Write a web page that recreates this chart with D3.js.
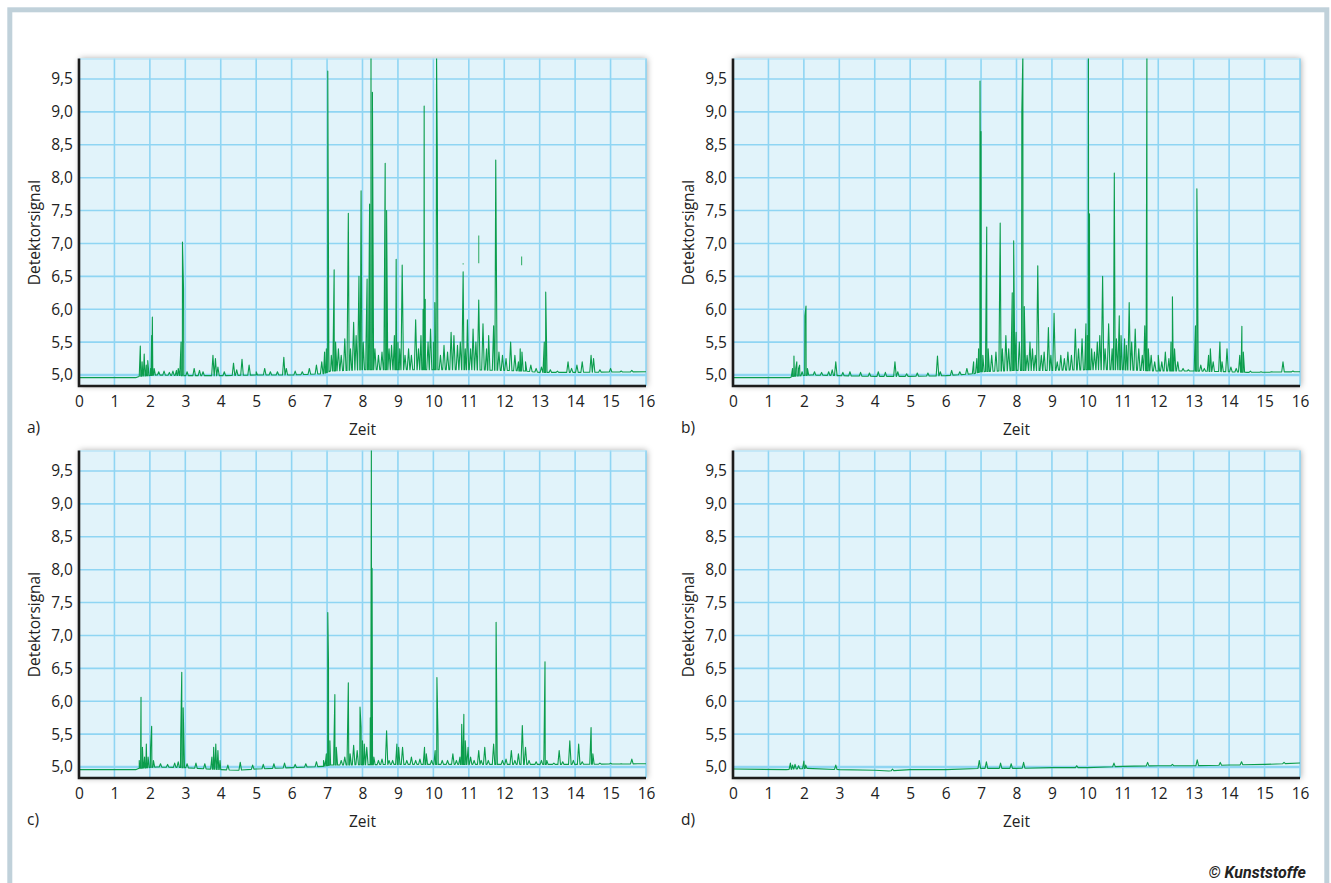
<!DOCTYPE html>
<html>
<head>
<meta charset="utf-8">
<script src="https://cdnjs.cloudflare.com/ajax/libs/d3/7.8.5/d3.min.js"></script>
<style>
  html, body { margin: 0; padding: 0; background: #fff; }
  svg text { font-family: "Open Sans", "Noto Sans", sans-serif; fill: #222; }
</style>
</head>
<body>
<div id="chart"></div>
<script>
'use strict';

// tick labels
const xTicks = [0, 1, 2, 3, 4, 5, 6, 7, 8, 9, 10, 11, 12, 13, 14, 15, 16];
const yTicks = [5.0, 5.5, 6.0, 6.5, 7.0, 7.5, 8.0, 8.5, 9.0, 9.5];
const panelLetters = ["a)", "b)", "c)", "d)"];

// baseline level [zeit, signal]
const baseA = [[0, 4.96], [1.6, 4.96], [1.7, 4.98], [2.2, 5.0], [3, 4.99], [4, 4.99], [5, 5.0], [6, 5.0],
  [6.9, 5.02], [7.1, 5.06], [8, 5.08], [9, 5.08], [10, 5.08], [11, 5.08], [12, 5.07], [12.6, 5.06],
  [13, 5.04], [14, 5.04], [16, 5.05]];
const baseB = [[0, 4.96], [1.6, 4.96], [1.7, 4.98], [2.2, 5.0], [3, 4.99], [4, 4.98], [5, 4.98], [6, 4.99],
  [6.8, 5.02], [7, 5.05], [8, 5.07], [9, 5.07], [10, 5.08], [11, 5.08], [12, 5.06], [13, 5.06],
  [14, 5.05], [14.5, 5.04], [16, 5.05]];
const baseC = [[0, 4.96], [1.6, 4.96], [1.7, 4.98], [2.2, 5.0], [3, 4.99], [4, 4.96], [4.5, 4.95], [5, 4.97],
  [6, 4.99], [6.9, 5.01], [7.1, 5.03], [9, 5.04], [11, 5.04], [13, 5.04], [14, 5.04], [16, 5.05]];
const baseD = [[0, 4.97], [1.5, 4.96], [2.1, 4.98], [3, 4.96], [4, 4.95], [4.4, 4.94], [5, 4.96], [6, 4.96],
  [7, 4.98], [8, 4.98], [9, 4.99], [10, 4.99], [11, 5.01], [12, 5.02], [13, 5.02], [14, 5.03],
  [15, 5.04], [16, 5.06]];

// peaks [zeit, signal]
const peaksA = [[1.73, 5.44], [1.78, 5.2], [1.84, 5.32], [1.9, 5.15], [1.94, 5.22], [2.02, 5.1], [2.05, 5.6],
  [2.07, 5.88], [2.12, 5.1], [2.25, 5.05], [2.4, 5.06], [2.55, 5.04], [2.65, 5.06], [2.75, 5.07], [2.8, 5.1],
  [2.88, 5.5], [2.92, 7.02], [2.95, 6.3], [3.05, 5.05], [3.25, 5.1], [3.4, 5.07], [3.5, 5.05], [3.78, 5.3],
  [3.85, 5.25], [3.92, 5.12], [4.1, 5.05], [4.36, 5.18], [4.45, 5.08], [4.6, 5.24], [4.8, 5.15], [5.0, 5.05],
  [5.24, 5.1], [5.4, 5.05], [5.6, 5.05], [5.78, 5.27], [5.85, 5.1], [6.1, 5.06], [6.3, 5.05], [6.5, 5.1],
  [6.7, 5.15], [6.85, 5.2], [6.93, 5.35], [6.98, 5.4], [7.02, 9.62], [7.05, 5.35], [7.12, 5.3], [7.2, 6.6],
  [7.24, 5.5], [7.32, 5.4], [7.4, 5.3], [7.5, 5.55], [7.6, 7.46], [7.66, 5.4], [7.75, 5.8], [7.82, 5.6],
  [7.9, 6.5], [7.96, 7.8], [8.02, 5.5], [8.1, 5.5], [8.13, 6.46], [8.2, 7.6], [8.24, 9.9], [8.28, 9.3],
  [8.35, 5.4], [8.45, 5.3], [8.55, 5.35], [8.64, 8.22], [8.68, 7.5], [8.75, 5.4], [8.82, 5.45], [8.9, 5.6],
  [8.95, 6.76], [9.0, 5.5], [9.05, 5.4], [9.12, 6.67], [9.2, 5.3], [9.3, 5.4], [9.38, 5.3], [9.5, 5.84],
  [9.58, 5.4], [9.65, 5.6], [9.71, 6.0], [9.74, 9.09], [9.77, 6.15], [9.85, 5.5], [9.92, 5.7], [10.0, 5.5],
  [10.04, 6.1], [10.09, 9.9], [10.11, 8.4], [10.2, 5.3], [10.3, 5.45], [10.4, 5.35], [10.5, 5.65],
  [10.58, 5.6], [10.68, 5.45], [10.76, 5.5], [10.84, 6.57], [10.9, 5.4], [10.96, 5.84], [11.05, 5.4],
  [11.12, 5.7], [11.2, 5.5], [11.28, 6.14], [11.4, 5.78], [11.5, 5.4], [11.56, 5.6], [11.7, 5.75],
  [11.76, 8.27], [11.85, 5.35], [11.95, 5.3], [12.05, 5.25], [12.18, 5.5], [12.3, 5.3], [12.4, 5.2],
  [12.45, 5.4], [12.5, 5.35], [12.6, 5.2], [12.75, 5.15], [12.9, 5.1], [13.05, 5.12], [13.13, 5.5],
  [13.17, 6.26], [13.3, 5.08], [13.5, 5.06], [13.8, 5.2], [13.9, 5.1], [14.05, 5.15], [14.2, 5.2],
  [14.45, 5.3], [14.52, 5.25], [14.7, 5.08], [15.0, 5.1], [15.3, 5.06], [15.6, 5.07]];

const peaksB = [[1.68, 5.1], [1.72, 5.29], [1.77, 5.1], [1.8, 5.2], [1.85, 5.1], [1.88, 5.15], [1.95, 5.05],
  [2.03, 5.9], [2.06, 6.05], [2.1, 5.1], [2.3, 5.05], [2.5, 5.04], [2.7, 5.05], [2.8, 5.08], [2.9, 5.2],
  [3.1, 5.04], [3.3, 5.05], [3.6, 5.04], [3.85, 5.03], [4.1, 5.05], [4.3, 5.04], [4.57, 5.2], [4.65, 5.05],
  [4.9, 5.02], [5.2, 5.03], [5.5, 5.03], [5.77, 5.29], [5.85, 5.05], [6.17, 5.07], [6.4, 5.05], [6.6, 5.1],
  [6.79, 5.2], [6.88, 5.25], [6.93, 5.4], [6.97, 9.47], [7.0, 8.7], [7.05, 5.3], [7.16, 7.25], [7.2, 5.4],
  [7.3, 5.3], [7.42, 5.35], [7.54, 7.31], [7.6, 5.4], [7.7, 5.6], [7.78, 5.4], [7.88, 6.25], [7.92, 7.04],
  [7.99, 5.65], [8.08, 5.5], [8.15, 9.0], [8.18, 9.9], [8.22, 6.04], [8.3, 5.3], [8.38, 5.5], [8.45, 5.4],
  [8.53, 5.3], [8.6, 6.66], [8.7, 5.3], [8.78, 5.35], [8.9, 5.72], [8.97, 5.3], [9.06, 5.94], [9.15, 5.2],
  [9.25, 5.3], [9.35, 5.25], [9.45, 5.35], [9.55, 5.3], [9.66, 5.7], [9.75, 5.4], [9.85, 5.55], [9.96, 5.78],
  [10.0, 5.6], [10.03, 9.9], [10.06, 7.45], [10.12, 5.4], [10.2, 5.35], [10.28, 5.5], [10.35, 5.6],
  [10.43, 6.5], [10.5, 5.4], [10.6, 5.78], [10.7, 5.4], [10.76, 8.07], [10.82, 5.55], [10.9, 5.9],
  [10.95, 5.6], [11.05, 5.55], [11.1, 5.45], [11.18, 6.1], [11.25, 5.5], [11.35, 5.7], [11.45, 5.4],
  [11.55, 5.3], [11.62, 5.75], [11.68, 9.9], [11.72, 5.4], [11.8, 5.3], [11.9, 5.2], [12.0, 5.3],
  [12.1, 5.2], [12.2, 5.35], [12.3, 5.25], [12.36, 5.5], [12.4, 6.19], [12.46, 5.4], [12.55, 5.2],
  [12.7, 5.1], [12.85, 5.08], [13.05, 5.75], [13.09, 7.83], [13.11, 6.62], [13.2, 5.15], [13.3, 5.1],
  [13.42, 5.3], [13.47, 5.4], [13.55, 5.2], [13.74, 5.5], [13.8, 5.2], [13.94, 5.4], [14.05, 5.12],
  [14.2, 5.1], [14.3, 5.3], [14.36, 5.74], [14.4, 5.35], [14.6, 5.06], [14.9, 5.05], [15.2, 5.05],
  [15.52, 5.2], [15.8, 5.06]];

const peaksC = [[1.7, 5.1], [1.75, 6.06], [1.79, 5.3], [1.85, 5.15], [1.9, 5.35], [1.95, 5.15], [2.02, 5.3],
  [2.05, 5.62], [2.1, 5.1], [2.3, 5.05], [2.5, 5.04], [2.7, 5.06], [2.8, 5.08], [2.87, 5.45], [2.9, 6.44],
  [2.94, 5.9], [3.05, 5.05], [3.3, 5.06], [3.55, 5.05], [3.75, 5.15], [3.8, 5.3], [3.86, 5.35], [3.92, 5.25],
  [3.98, 5.1], [4.2, 5.03], [4.55, 5.07], [4.9, 5.03], [5.2, 5.04], [5.5, 5.05], [5.8, 5.06], [6.1, 5.04],
  [6.4, 5.05], [6.7, 5.08], [6.9, 5.1], [6.98, 5.2], [7.02, 7.35], [7.04, 6.6], [7.08, 5.4], [7.22, 6.1],
  [7.26, 5.3], [7.4, 5.1], [7.5, 5.15], [7.6, 6.28], [7.65, 5.2], [7.75, 5.33], [7.85, 5.25], [7.93, 5.91],
  [7.96, 5.6], [8.0, 5.4], [8.05, 5.35], [8.12, 5.3], [8.22, 5.75], [8.25, 9.9], [8.27, 8.02], [8.32, 5.15],
  [8.45, 5.1], [8.55, 5.12], [8.68, 5.55], [8.75, 5.1], [8.85, 5.1], [8.97, 5.35], [9.02, 5.3], [9.13, 5.3],
  [9.25, 5.1], [9.38, 5.15], [9.5, 5.1], [9.62, 5.12], [9.75, 5.3], [9.8, 5.2], [9.95, 5.1], [10.05, 5.25],
  [10.1, 6.36], [10.13, 5.5], [10.25, 5.1], [10.4, 5.1], [10.55, 5.2], [10.65, 5.1], [10.75, 5.15],
  [10.8, 5.65], [10.86, 5.8], [10.9, 5.4], [10.98, 5.3], [11.05, 5.15], [11.15, 5.1], [11.28, 5.25],
  [11.35, 5.1], [11.45, 5.3], [11.55, 5.1], [11.7, 5.35], [11.77, 7.2], [11.8, 5.2], [11.95, 5.1],
  [12.05, 5.12], [12.2, 5.25], [12.3, 5.1], [12.4, 5.2], [12.51, 5.63], [12.6, 5.3], [12.7, 5.1],
  [12.9, 5.08], [13.05, 5.1], [13.12, 5.2], [13.15, 6.6], [13.2, 5.1], [13.4, 5.06], [13.55, 5.25],
  [13.65, 5.08], [13.85, 5.4], [13.95, 5.1], [14.1, 5.35], [14.2, 5.08], [14.45, 5.6], [14.5, 5.2],
  [14.7, 5.06], [15.0, 5.06], [15.3, 5.05], [15.6, 5.12], [15.8, 5.05]];

const peaksD = [[1.62, 5.06], [1.68, 5.03], [1.75, 5.04], [1.85, 5.02], [2.0, 5.09], [2.05, 5.03], [2.9, 5.03],
  [4.5, 4.97], [6.95, 5.1], [7.15, 5.08], [7.55, 5.06], [7.85, 5.05], [8.2, 5.07], [9.7, 5.02], [10.75, 5.06],
  [11.7, 5.07], [12.4, 5.04], [13.1, 5.11], [13.75, 5.07], [14.35, 5.08], [15.55, 5.07]];

// loose trace fragments floating above peaks [zeit, from, to]
const fragsA = [[10.84, 6.7, 6.68], [11.28, 7.12, 6.7], [12.49, 6.8, 6.67]];

(function() {

  let svgContainer = "";
  const plotW = 567;
  const plotH = 327.5;

  window.onload = function() {
    svgContainer = d3.select('#chart')
      .append('svg')
      .attr('width', 1331)
      .attr('height', 883);

    makeDefs();

    // outer frame
    svgContainer.append('rect')
      .attr('x', 9.8).attr('y', 9.8)
      .attr('width', 1317).attr('height', 900)
      .attr('fill', 'none')
      .attr('stroke', '#c0d1da')
      .attr('stroke-width', 5);

    let panels = [
      { left: 79, top: 58.5, base: baseA, peaks: peaksA, frags: fragsA },
      { left: 733, top: 58.5, base: baseB, peaks: peaksB, frags: [] },
      { left: 79, top: 450.5, base: baseC, peaks: peaksC, frags: [] },
      { left: 733, top: 450.5, base: baseD, peaks: peaksD, frags: [] }
    ];
    panels.forEach((p, i) => drawPanel(p, i));

    svgContainer.append('text')
      .attr('x', 1306)
      .attr('y', 878)
      .attr('text-anchor', 'end')
      .style('font-family', '"Liberation Sans Narrow", "Roboto", sans-serif')
      .style('font-weight', 'bold')
      .style('font-style', 'italic')
      .style('font-size', '16px')
      .text('© Kunststoffe');
  }

  function makeDefs() {
    let defs = svgContainer.append('defs');
    defs.append('filter')
      .attr('id', 'shadow')
      .attr('x', '-5%').attr('y', '-10%')
      .attr('width', '110%').attr('height', '120%')
      .append('feDropShadow')
      .attr('dx', 1).attr('dy', 0)
      .attr('stdDeviation', 3)
      .attr('flood-color', '#000')
      .attr('flood-opacity', 0.35);
  }

  // one chromatogram panel
  function drawPanel(p, i) {
    let g = svgContainer.append('g')
      .attr('transform', 'translate(' + p.left + ',' + p.top + ')');

    let xScale = d3.scaleLinear().domain([0, 16]).range([0, plotW]);
    let yScale = d3.scaleLinear().domain([4.833, 9.812]).range([plotH, 0]);

    g.append('rect')
      .attr('width', plotW).attr('height', plotH)
      .attr('fill', '#e1f3fa')
      .attr('filter', 'url(#shadow)');

    // grid
    g.append('g').selectAll('line')
      .data(xTicks.slice(1))
      .enter().append('line')
        .attr('x1', (d) => xScale(d)).attr('x2', (d) => xScale(d))
        .attr('y1', 0).attr('y2', plotH)
        .attr('stroke', '#8fd5f3')
        .attr('stroke-width', 1.6);
    g.append('g').selectAll('line')
      .data(yTicks)
      .enter().append('line')
        .attr('x1', 0).attr('x2', plotW)
        .attr('y1', (d) => yScale(d)).attr('y2', (d) => yScale(d))
        .attr('stroke', '#8fd5f3')
        .attr('stroke-width', (d) => d == 5.0 ? 2.4 : 1.6);
    g.append('line')
      .attr('x1', 0).attr('x2', plotW).attr('y1', 0.5).attr('y2', 0.5)
      .attr('stroke', '#a7def5').attr('stroke-width', 1);

    // trace
    let clipId = 'clip' + i;
    g.append('clipPath').attr('id', clipId)
      .append('rect').attr('width', plotW).attr('height', plotH);

    let pts = tracePoints(p.base, p.peaks, xScale);
    g.append('path')
      .datum(pts)
      .attr('clip-path', 'url(#' + clipId + ')')
      .attr('fill', 'none')
      .attr('stroke', '#0b9d4c')
      .attr('stroke-width', 1.1)
      .attr('stroke-linejoin', 'round')
      .attr('d', d3.line()
        .x((d) => xScale(d[0]))
        .y((d) => yScale(d[1])));

    g.append('g').selectAll('line')
      .data(p.frags)
      .enter().append('line')
        .attr('x1', (d) => xScale(d[0])).attr('x2', (d) => xScale(d[0]))
        .attr('y1', (d) => yScale(d[1])).attr('y2', (d) => yScale(d[2]))
        .attr('stroke', '#3bb06d')
        .attr('stroke-width', 1.1);

    // axes
    let xAxis = d3.axisBottom(xScale).tickValues(xTicks).tickSize(0).tickPadding(10)
      .tickFormat((d) => d);
    let gx = g.append('g')
      .attr('transform', 'translate(0,' + plotH + ')')
      .call(xAxis);
    gx.select('.domain').remove();
    gx.selectAll('text').style('font-size', '15.5px').attr('fill', '#222');

    let yAxis = d3.axisLeft(yScale).tickValues(yTicks).tickSize(0).tickPadding(6)
      .tickFormat((d) => d3.format('.1f')(d).replace('.', ','));
    let gy = g.append('g').call(yAxis);
    gy.select('.domain').remove();
    gy.selectAll('text').style('font-size', '15.5px').attr('fill', '#222');

    g.append('path')
      .attr('d', 'M0,0V' + plotH + 'H' + plotW)
      .attr('fill', 'none')
      .attr('stroke', '#1c1c1c')
      .attr('stroke-width', 2.6);

    // labels
    g.append('text')
      .attr('transform', 'translate(-39,' + 174 + ')rotate(-90)')
      .attr('text-anchor', 'middle')
      .style('font-size', '15.5px')
      .text('Detektorsignal');

    g.append('text')
      .attr('x', plotW / 2)
      .attr('y', plotH + 48.5)
      .attr('text-anchor', 'middle')
      .style('font-size', '15.5px')
      .text('Zeit');

    g.append('text')
      .attr('x', -52)
      .attr('y', plotH + 47)
      .style('font-size', '15.5px')
      .text(panelLetters[i]);
  }

  // baseline plus narrow spikes, sorted by time
  function tracePoints(base, peaks, xScale) {
    let baseAt = d3.scaleLinear()
      .domain(base.map((d) => d[0]))
      .range(base.map((d) => d[1]));
    let w = xScale.invert(1.3) - xScale.invert(0);
    let pts = base.map((d) => [d[0], d[1]]);
    peaks.forEach((d) => {
      pts.push([d[0] - w, baseAt(d[0] - w)]);
      pts.push([d[0], d[1]]);
      pts.push([d[0] + w, baseAt(d[0] + w)]);
    });
    pts.sort((a, b) => a[0] - b[0]);
    return pts.filter((d) => d[0] >= 0 && d[0] <= 16);
  }

})();
</script>
</body>
</html>
